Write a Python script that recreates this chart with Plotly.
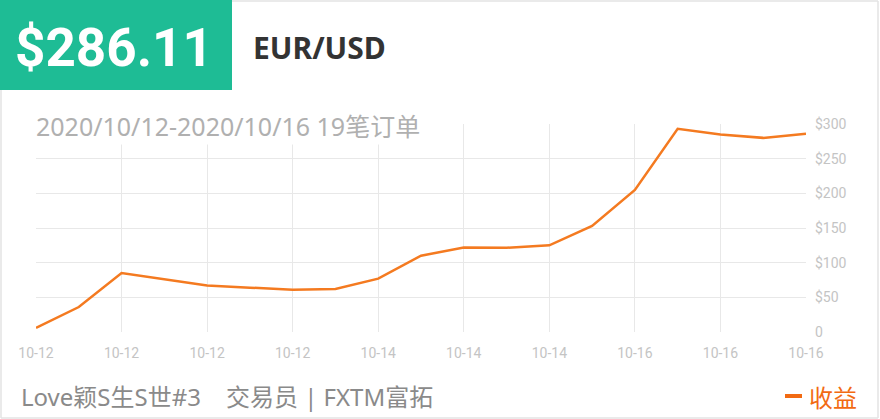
import plotly.graph_objects as go

# ---- data ----
order_index = list(range(19))
profit = [6, 36, 85, 76, 67, 64, 61, 62, 77, 110, 122, 121.5, 125, 153, 205, 293, 285, 280, 286.11]
x_tick_index = [0, 2, 4, 6, 8, 10, 12, 14, 16, 18]
x_tick_labels = ["10-12", "10-12", "10-12", "10-12", "10-14", "10-14", "10-14", "10-16", "10-16", "10-16"]
y_tick_values = [0, 50, 100, 150, 200, 250, 300]
y_tick_labels = ["0", "$50", "$100", "$150", "$200", "$250", "$300"]

headline_value = "$286.11"
pair_name = "EUR/USD"
subtitle = "2020/10/12-2020/10/16 19笔订单"
footer = "Love颖S生S世#3\u00a0\u00a0\u00a0\u00a0交易员 | FXTM富拓"
legend_name = "收益"

W, H = 880, 419
def px(x):
    return x / W
def py(y):
    return 1 - y / H

LINE = "#f47a20"
TICKFONT = dict(family="Roboto, sans-serif", size=14, color="#c4c4c4")

fig = go.Figure()
fig.add_trace(go.Scatter(
    x=order_index, y=profit, mode="lines",
    line=dict(color=LINE, width=2.5), name=legend_name, showlegend=False,
    hoverinfo="skip",
))

fig.update_layout(
    width=W, height=H, autosize=False,
    margin=dict(l=0, r=0, t=0, b=0, pad=0),
    paper_bgcolor="white", plot_bgcolor="white",
    xaxis=dict(
        domain=[px(36), px(806)], range=[0, 18], automargin=False,
        tickvals=x_tick_index, ticktext=x_tick_labels,
        showgrid=True, gridcolor="#e8e8e8", gridwidth=1,
        zeroline=False, showline=False, ticks="",
        tickfont=TICKFONT, ticklabelstandoff=11,
    ),
    yaxis=dict(
        domain=[py(332), py(124)], range=[0, 300], side="right", automargin=False,
        tickvals=y_tick_values, ticktext=y_tick_labels,
        showgrid=True, gridcolor="#e8e8e8", gridwidth=1,
        zeroline=False, showline=False, ticks="",
        tickfont=TICKFONT, ticklabelstandoff=8,
    ),
    shapes=[
        dict(type="rect", xref="paper", yref="paper", x0=px(0), x1=px(232), y0=py(90), y1=py(0),
             fillcolor="#1ebc95", line=dict(width=0), layer="below"),
        # frame
        dict(type="line", xref="paper", yref="paper", x0=px(232), x1=px(878), y0=py(1), y1=py(1),
             line=dict(color="#e3e3e3", width=1.5)),
        dict(type="line", xref="paper", yref="paper", x0=px(878), x1=px(878), y0=py(1), y1=py(418),
             line=dict(color="#e3e3e3", width=1.5)),
        dict(type="line", xref="paper", yref="paper", x0=px(1), x1=px(878), y0=py(418), y1=py(418),
             line=dict(color="#e3e3e3", width=1.5)),
        dict(type="line", xref="paper", yref="paper", x0=px(1), x1=px(1), y0=py(90), y1=py(418),
             line=dict(color="#e3e3e3", width=1.5)),
        # legend dash
        dict(type="line", xref="paper", yref="paper", x0=px(785), x1=px(802), y0=py(396), y1=py(396),
             line=dict(color="#f26a12", width=4)),
    ],
    annotations=[
        dict(xref="paper", yref="paper", x=px(114), y=py(48), xanchor="center", yanchor="middle",
             text=headline_value, showarrow=False, borderpad=0,
             font=dict(family="Roboto", size=53, color="white", weight="bold")),
        dict(xref="paper", yref="paper", x=px(252), y=py(47), xanchor="left", yanchor="middle",
             text=pair_name, showarrow=False, borderpad=0,
             font=dict(family="Noto Sans", size=30, color="#333333", weight="bold")),
        dict(xref="paper", yref="paper", x=px(34), y=py(126), xanchor="left", yanchor="middle",
             text=subtitle, showarrow=False, bgcolor="white", borderpad=1,
             font=dict(family="Noto Sans, Noto Sans CJK SC", size=25, color="#b0b0b0")),
        dict(xref="paper", yref="paper", x=px(20), y=py(396), xanchor="left", yanchor="middle",
             text=footer, showarrow=False, borderpad=0,
             font=dict(family="Noto Sans, Noto Sans CJK SC", size=24, color="#8a8a8a")),
        dict(xref="paper", yref="paper", x=px(808), y=py(396), xanchor="left", yanchor="middle",
             text=legend_name, showarrow=False, borderpad=0,
             font=dict(family="Noto Sans CJK SC", size=24, color="#f26a12")),
    ],
)

fig.write_html("out.html", config={"displayModeBar": False},
               post_script="document.body.style.margin='0';")
